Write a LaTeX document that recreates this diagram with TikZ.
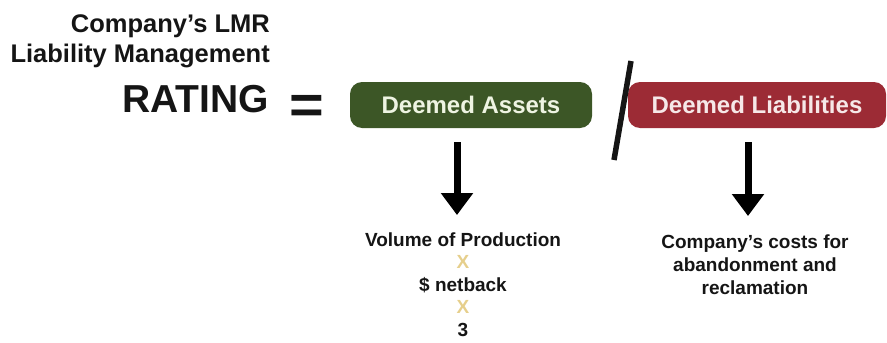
\documentclass[tikz,border=0pt]{standalone}
\usepackage{fontspec}
\setmainfont{Liberation Sans}
\usetikzlibrary{arrows.meta}
\definecolor{assetgreen}{HTML}{3C5626}
\definecolor{liabred}{HTML}{9C2B35}
\definecolor{assettext}{HTML}{EEF4E2}
\definecolor{liabtext}{HTML}{F6E8E8}
\definecolor{timesgold}{HTML}{E6CF8C}
\definecolor{inktext}{HTML}{151515}
\tikzset{
  title/.style={font=\bfseries\fontsize{25.5}{30}\selectfont, text=inktext, inner sep=0pt, anchor=base east},
  termbox/.style={rounded corners=12pt, minimum width=#1, minimum height=46pt, inner sep=0pt,
    font=\bfseries\fontsize{24}{28}\selectfont},
  bigarrow/.style={line width=7pt, -{Triangle[width=31pt,length=22pt]}},
  note/.style={font=\bfseries\fontsize{19}{23}\selectfont, text=inktext, inner sep=0pt, anchor=base},
}
\begin{document}
\begin{tikzpicture}[x=1pt,y=-1pt]
\useasboundingbox (0,0) rectangle (887,343);
% title
\node[title] (t1) at (270,32) {Company’s LMR};
\node[title] (t2) at (270,62) {Liability Management};
\node[title, font=\bfseries\fontsize{39}{44}\selectfont] (rating) at (269,112) {RATING};
\node[inner sep=0pt, font=\bfseries\fontsize{54}{60}\selectfont, text=inktext] (eq) at (307,109) {\scalebox{1.1}[1]{=}};
% boxes
\node[termbox=242pt, fill=assetgreen, text=assettext] (assets) at (471,105) {Deemed Assets};
\node[termbox=258pt, fill=liabred, text=liabtext] (liab) at (757,105) {Deemed Liabilities};
% slash
\coordinate (s1) at (631,61);
\coordinate (s2) at (614,160);
\draw[line width=5.5pt, inktext] (s1) -- (s2);
% left column
\node[note] (vol) at (463,246) {Volume of Production};
\node[note, text=timesgold] (x1) at (463,268.5) {X};
\node[note] (net) at (463,291) {\$ netback};
\node[note, text=timesgold] (x2) at (463,313.5) {X};
\node[note] (three) at (463,336) {3};
% right column
\node[note] (c1) at (755,248) {Company’s costs for};
\node[note] (c2) at (755,271) {abandonment and};
\node[note] (c3) at (755,294) {reclamation};
% arrows
\coordinate (a1) at (457,142);
\coordinate (a2) at (748,142);
\draw[bigarrow] (a1) -- ([yshift=17pt]a1 |- vol.north);
\draw[bigarrow] (a2) -- ([yshift=18pt]a2 |- c1.north);
\end{tikzpicture}
\end{document}
